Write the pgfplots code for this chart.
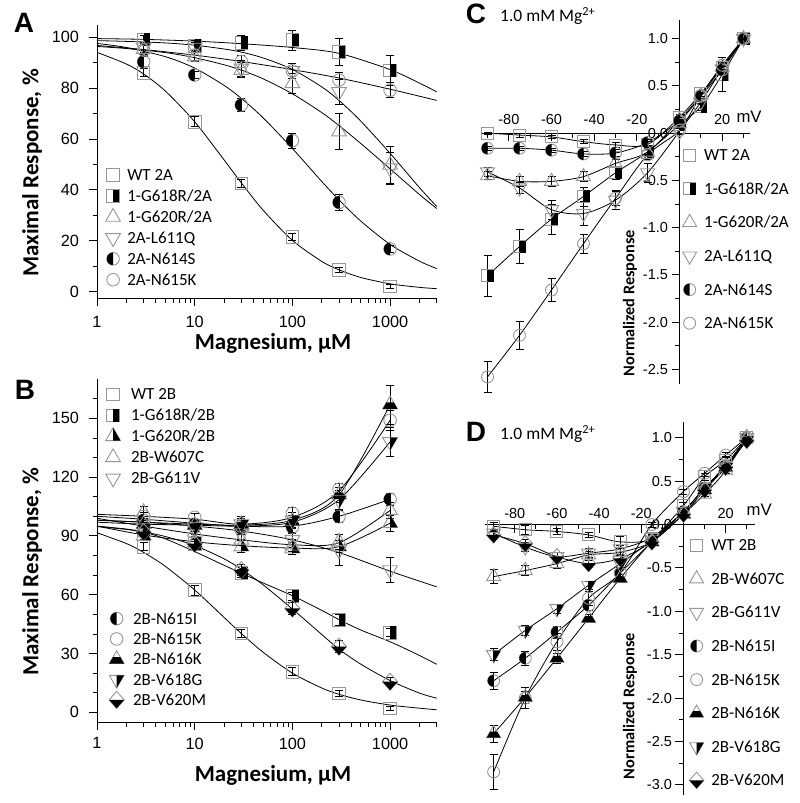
\documentclass[border=0pt]{standalone}
\usepackage{fontspec}
\setmainfont{Carlito}
\newfontfamily\arialf{Liberation Sans}
\usepackage{pgfplots}
\pgfplotsset{compat=1.18}
\definecolor{mg}{RGB}{150,150,150}

\newcommand\tfA{\fontsize{16.3}{18}\selectfont\arialf}
\newcommand\tfC{\fontsize{14.5}{16}\selectfont\arialf}
\newcommand\labf{\fontsize{23}{26}\selectfont\bfseries}
\newcommand\legf{\fontsize{17}{20}\selectfont}
\newcommand\nrf{\fontsize{16.3}{18}\selectfont\bfseries}

\newcommand\mkstyle{\pgfsetlinewidth{0.9pt}\pgfsetstrokecolor{mg}\pgfsetfillcolor{black}}
\pgfdeclareplotmark{sqO}{\mkstyle
  \pgfpathrectangle{\pgfqpoint{-\pgfplotmarksize}{-\pgfplotmarksize}}{\pgfqpoint{2\pgfplotmarksize}{2\pgfplotmarksize}}\pgfusepathqstroke}
\pgfdeclareplotmark{sqR}{\mkstyle
  \pgfpathrectangle{\pgfqpoint{-\pgfplotmarksize}{-\pgfplotmarksize}}{\pgfqpoint{2\pgfplotmarksize}{2\pgfplotmarksize}}\pgfusepathqstroke
  \pgfpathrectangle{\pgfqpoint{0pt}{-\pgfplotmarksize}}{\pgfqpoint{\pgfplotmarksize}{2\pgfplotmarksize}}\pgfusepathqfill}
\pgfdeclareplotmark{circO}{\mkstyle
  \pgfpathcircle{\pgfpointorigin}{\pgfplotmarksize}\pgfusepathqstroke}
\pgfdeclareplotmark{circL}{\mkstyle
  \pgfpathcircle{\pgfpointorigin}{\pgfplotmarksize}\pgfusepathqstroke
  \pgfpathmoveto{\pgfqpoint{0pt}{\pgfplotmarksize}}\pgfpatharc{90}{270}{\pgfplotmarksize}\pgfpathclose\pgfusepathqfill}
\pgfdeclareplotmark{triO}{\mkstyle
  \pgfpathmoveto{\pgfqpoint{0pt}{1.35\pgfplotmarksize}}
  \pgfpathlineto{\pgfqpoint{1.169\pgfplotmarksize}{-0.675\pgfplotmarksize}}
  \pgfpathlineto{\pgfqpoint{-1.169\pgfplotmarksize}{-0.675\pgfplotmarksize}}\pgfpathclose\pgfusepathqstroke}
\pgfdeclareplotmark{triR}{\pgfuseplotmark{triO}\mkstyle
  \pgfpathmoveto{\pgfqpoint{0pt}{1.35\pgfplotmarksize}}
  \pgfpathlineto{\pgfqpoint{1.169\pgfplotmarksize}{-0.675\pgfplotmarksize}}
  \pgfpathlineto{\pgfqpoint{0pt}{-0.675\pgfplotmarksize}}\pgfpathclose\pgfusepathqfill}
\pgfdeclareplotmark{triB}{\pgfuseplotmark{triO}\mkstyle
  \pgfpathmoveto{\pgfqpoint{-1.169\pgfplotmarksize}{-0.675\pgfplotmarksize}}
  \pgfpathlineto{\pgfqpoint{1.169\pgfplotmarksize}{-0.675\pgfplotmarksize}}
  \pgfpathlineto{\pgfqpoint{0.584\pgfplotmarksize}{0.337\pgfplotmarksize}}
  \pgfpathlineto{\pgfqpoint{-0.584\pgfplotmarksize}{0.337\pgfplotmarksize}}\pgfpathclose\pgfusepathqfill}
\pgfdeclareplotmark{itriO}{\mkstyle
  \pgfpathmoveto{\pgfqpoint{0pt}{-1.35\pgfplotmarksize}}
  \pgfpathlineto{\pgfqpoint{1.169\pgfplotmarksize}{0.675\pgfplotmarksize}}
  \pgfpathlineto{\pgfqpoint{-1.169\pgfplotmarksize}{0.675\pgfplotmarksize}}\pgfpathclose\pgfusepathqstroke}
\pgfdeclareplotmark{itriR}{\pgfuseplotmark{itriO}\mkstyle
  \pgfpathmoveto{\pgfqpoint{0pt}{-1.35\pgfplotmarksize}}
  \pgfpathlineto{\pgfqpoint{1.169\pgfplotmarksize}{0.675\pgfplotmarksize}}
  \pgfpathlineto{\pgfqpoint{0pt}{0.675\pgfplotmarksize}}\pgfpathclose\pgfusepathqfill}
\pgfdeclareplotmark{diaB}{\mkstyle
  \pgfpathmoveto{\pgfqpoint{0pt}{1.35\pgfplotmarksize}}
  \pgfpathlineto{\pgfqpoint{1.2\pgfplotmarksize}{0pt}}
  \pgfpathlineto{\pgfqpoint{0pt}{-1.35\pgfplotmarksize}}
  \pgfpathlineto{\pgfqpoint{-1.2\pgfplotmarksize}{0pt}}\pgfpathclose\pgfusepathqstroke
  \pgfpathmoveto{\pgfqpoint{-1.2\pgfplotmarksize}{0pt}}
  \pgfpathlineto{\pgfqpoint{1.2\pgfplotmarksize}{0pt}}
  \pgfpathlineto{\pgfqpoint{0pt}{-1.35\pgfplotmarksize}}\pgfpathclose\pgfusepathqfill}

\pgfplotsset{
  zzcrv/.style={black, line width=0.8pt, smooth, mark=none, forget plot},
  zzpts/.style={only marks, error bars/.cd, y dir=both, y explicit,
     error bar style={line width=0.8pt, black},
     error mark options={rotate=90, mark size=4pt, line width=0.8pt, black}},
  zzbase/.style={scale only axis, clip=false, tick align=outside,
     axis line style={line width=1pt, black},
     major tick style={line width=1pt, black}, minor tick style={line width=0.8pt, black},
     major tick length=8pt, minor tick length=4.5pt,
     legend cell align=left},
}

\begin{document}
\begin{tikzpicture}
\useasboundingbox (0pt,0pt) rectangle (800pt,-803pt);

% ================= Panel A =================
\begin{axis}[zzbase, at={(97pt,-298.3pt)}, anchor=south west, width=339.7pt, height=273.7pt,
  xmode=log, xmin=1, xmax=3000, axis lines*=left,
  xtick={1,10,100,1000}, xticklabels={1,10,100,1000},
  minor xtick={2,3,4,5,6,7,8,9,20,30,40,50,60,70,80,90,200,300,400,500,600,700,800,900,2000,3000},
  tick label style={font=\tfA}, xticklabel style={yshift=-6pt}, yticklabel style={xshift=-6.5pt},
  ymin=-2.6, ymax=105, ytick={0,20,40,60,80,100}, yticklabels={0,20,40,60,80,100},
  minor ytick={10,30,50,70,90},
  xlabel={Magnesium, μM}, ylabel={Maximal Response, \%},
  xlabel style={font=\labf, at={(axis description cs:0.518,-0.163)}, anchor=center},
  ylabel style={font=\labf, at={(axis description cs:-0.191,0.458)}, anchor=center},
  legend style={draw=none, fill=none, inner sep=0pt, font=\legf, row sep=3.9pt, column sep=6.9pt,
     nodes={inner sep=0pt, text height=14pt, text depth=3pt},
     at={(axis description cs:0.025,0.4815)}, anchor=north west}]
\addplot[zzcrv] coordinates {(1,94.1)(2,89.5)(3,85.6)(5,78.9)(10,66.8)(20,51.8)(30,42.8)(50,32.1)(100,20.2)(200,11.9)(300,8.6)(500,5.6)(1000,3.1)(2000,1.7)(3000,1.2)};
\addplot[zzcrv] coordinates {(1,99.5)(3,99.2)(10,98.5)(30,97.5)(100,96.0)(300,93.7)(1000,87.3)(2000,82.0)(3000,78.6)};
\addplot[zzcrv] coordinates {(1,96.4)(2,95.6)(5,94.0)(10,92.0)(20,89.2)(30,87.1)(50,83.7)(100,77.8)(200,70.4)(300,65.3)(500,58.3)(1000,48.3)(2000,38.2)(3000,32.7)};
\addplot[zzcrv] coordinates {(1,98.7)(2,98.4)(5,97.8)(10,96.9)(20,95.4)(30,94.2)(50,91.9)(100,87.4)(200,80.5)(300,75.2)(500,67.1)(1000,54.4)(2000,40.9)(3000,33.5)};
\addplot[zzcrv] coordinates {(1,97.6)(2,96.0)(5,92.4)(10,87.9)(20,81.1)(30,76.0)(50,68.4)(100,56.3)(200,43.3)(300,36.1)(500,27.8)(1000,18.6)(2000,12.0)(3000,9.1)};
\addplot[zzcrv] coordinates {(1,96.8)(3,95.2)(10,93.0)(30,90.5)(100,87.3)(300,84.0)(1000,79.6)(3000,75.2)};
\addplot[mark=sqO, mark size=6.3pt, zzpts] coordinates {(3,86.1)+-(0,1.5) (10,66.8)+-(0,2) (30,42.6)+-(0,1.5) (100,21.6)+-(0,1.5) (300,8.5)+-(0,1) (1000,2.0)+-(0,0.8)};
\addlegendentry{WT 2A}
\addplot[mark=sqR, mark size=6.3pt, zzpts] coordinates {(3,99.2)+-(0,1.5) (10,96.7)+-(0,2) (30,97.9)+-(0,3) (100,98.9)+-(0,4) (300,94.3)+-(0,5.2) (1000,87.0)+-(0,6)};
\addlegendentry{1-G618R/2A}
\addplot[mark=triO, mark size=6.3pt, zzpts] coordinates {(3,95.3)+-(0,2) (10,92.4)+-(0,2) (30,87.1)+-(0,3) (100,81.9)+-(0,4) (300,62.9)+-(0,7) (1000,49.8)+-(0,7.5)};
\addlegendentry{1-G620R/2A}
\addplot[mark=itriO, mark size=6.3pt, zzpts] coordinates {(3,96)+-(0,2) (10,96)+-(0,2) (30,87.8)+-(0,3) (100,86.8)+-(0,3) (300,78.6)+-(0,5) (1000,48.6)+-(0,6)};
\addlegendentry{2A-L611Q}
\addplot[mark=circL, mark size=6.3pt, zzpts] coordinates {(3,90.4)+-(0,2) (10,85.2)+-(0,1.5) (30,73.4)+-(0,2.5) (100,59.4)+-(0,3) (300,35.1)+-(0,3) (1000,16.8)+-(0,1.5)};
\addlegendentry{2A-N614S}
\addplot[mark=circO, mark size=6.3pt, zzpts] coordinates {(3,95)+-(0,2) (10,93)+-(0,2) (30,90.5)+-(0,2.5) (100,86.8)+-(0,3) (300,83.2)+-(0,3) (1000,79.2)+-(0,3)};
\addlegendentry{2A-N615K}
\end{axis}

% ================= Panel B =================
\begin{axis}[zzbase, at={(97pt,-722.1pt)}, anchor=south west, width=339.7pt, height=343pt,
  xmode=log, xmin=1, xmax=3000, axis lines*=left,
  xtick={1,10,100,1000}, xticklabels={1,10,100,1000},
  minor xtick={2,3,4,5,6,7,8,9,20,30,40,50,60,70,80,90,200,300,400,500,600,700,800,900,2000,3000},
  tick label style={font=\tfA}, xticklabel style={yshift=-4pt}, yticklabel style={xshift=-6.5pt},
  ymin=-5, ymax=170, ytick={0,30,60,90,120,150}, yticklabels={0,30,60,90,120,150},
  minor ytick={10,20,40,50,70,80,100,110,130,140,160},
  xlabel={Magnesium, μM}, ylabel={Maximal Response, \%},
  xlabel style={font=\labf, at={(axis description cs:0.518,-0.154)}, anchor=center},
  ylabel style={font=\labf, at={(axis description cs:-0.191,0.4385)}, anchor=center},
  legend style={draw=none, fill=none, inner sep=0pt, font=\legf, row sep=4pt, column sep=10.6pt,
     nodes={inner sep=0pt, text height=14pt, text depth=3pt},
     at={(axis description cs:0.025,0.981)}, anchor=north west}]
\addplot[zzcrv] coordinates {(1,91.6)(2,86.1)(3,81.6)(5,74.5)(10,62.4)(20,48.4)(30,40.2)(50,30.7)(100,20.0)(200,12.4)(300,9.2)(500,6.3)(1000,3.7)(2000,2.1)(3000,1.3)};
\addplot[zzcrv] coordinates {(1,95)(2,93.5)(3,92)(5,88.5)(10,82)(20,75)(30,71)(50,66)(100,59.5)(200,52)(300,47.3)(500,42)(1000,36)(2000,29)(3000,24.5)};
\addplot[zzcrv] coordinates {(1,94.8)(2,93.3)(3,92.0)(5,89.7)(10,85.1)(20,78.3)(30,73.0)(50,65.1)(100,52.7)(200,39.7)(300,32.2)(500,24.6)(1000,16.2)(2000,9.8)(3000,7.2)};
\addplot[zzcrv] coordinates {(1,98)(3,97)(10,95)(30,92.5)(100,88)(300,81.5)(1000,72)(3000,64)};
\addplot[zzcrv] coordinates {(1,99)(3,95)(10,91)(30,88)(100,85.5)(300,86.5)(1000,103)};
\addplot[zzcrv] coordinates {(1,95)(3,90.5)(10,87)(30,85)(100,83.8)(300,84.5)(1000,96.5)};
\addplot[zzcrv] coordinates {(1,100)(3,98.5)(10,96.5)(30,95)(100,95)(300,100)(1000,108.7)};
\addplot[zzcrv] coordinates {(1,101)(3,100)(10,98.5)(30,96)(100,99.5)(300,113)(1000,149)};
\addplot[zzcrv] coordinates {(1,98)(3,97)(10,96)(30,95.5)(100,98)(300,111)(1000,157)};
\addplot[zzcrv] coordinates {(1,97)(3,96)(10,95.5)(30,95)(100,97)(300,108.5)(1000,138)};
\addplot[mark=sqO, mark size=6.3pt, zzpts] coordinates {(3,84.5)+-(0,2) (10,62.4)+-(0,2.5) (30,40.3)+-(0,2) (100,20.7)+-(0,2) (300,9.7)+-(0,1.5) (1000,2.0)+-(0,1)};
\addlegendentry{WT 2B}
\addplot[mark=sqR, mark size=6.3pt, zzpts] coordinates {(3,93)+-(0,2) (10,86)+-(0,2) (30,71)+-(0,2) (100,59.3)+-(0,2) (300,47.1)+-(0,3) (1000,40.6)+-(0,2)};
\addlegendentry{1-G618R/2B}
\addplot[mark=triR, mark size=6.3pt, zzpts] coordinates {(3,90)+-(0,2) (10,86.5)+-(0,2) (30,84.5)+-(0,3) (100,83.5)+-(0,3) (300,84.5)+-(0,3) (1000,96.5)+-(0,4)};
\addlegendentry{1-G620R/2B}
\addplot[mark=triO, mark size=6.3pt, zzpts] coordinates {(3,102)+-(0,3) (10,92)+-(0,2) (30,88)+-(0,3) (100,85)+-(0,3) (300,87)+-(0,4) (1000,103)+-(0,4)};
\addlegendentry{2B-W607C}
\addplot[mark=itriO, mark size=6.3pt, zzpts] coordinates {(3,96)+-(0,2) (10,93)+-(0,2) (30,91)+-(0,3) (100,88)+-(0,4) (300,82.8)+-(0,8) (1000,72.6)+-(0,6.5)};
\addlegendentry{2B-G611V}
\end{axis}
\begin{axis}[zzbase, hide axis, at={(97pt,-722.1pt)}, anchor=south west, width=339.7pt, height=343pt,
  xmode=log, xmin=1, xmax=3000, ymin=-5, ymax=170,
  legend style={draw=none, fill=none, inner sep=0pt, font=\legf, row sep=3.3pt, column sep=8.8pt,
     nodes={inner sep=0pt, text height=14pt, text depth=3pt},
     at={(axis description cs:0.035,0.327)}, anchor=north west}]
\addplot[mark=circL, mark size=6.3pt, zzpts] coordinates {(3,98)+-(0,2) (10,96)+-(0,2) (30,94)+-(0,3) (100,94.5)+-(0,3) (300,99.8)+-(0,3) (1000,108.7)+-(0,3)};
\addlegendentry{2B-N615I}
\addplot[mark=circO, mark size=6.3pt, zzpts] coordinates {(3,100)+-(0,2) (10,99.5)+-(0,2) (30,95)+-(0,3) (100,101.6)+-(0,3) (300,113.8)+-(0,3) (1000,149)+-(0,5)};
\addlegendentry{2B-N615K}
\addplot[mark=triB, mark size=6.3pt, zzpts] coordinates {(3,96)+-(0,2) (10,95.5)+-(0,2) (30,96)+-(0,3) (100,97.5)+-(0,3) (300,111)+-(0,4) (1000,157)+-(0,10)};
\addlegendentry{2B-N616K}
\addplot[mark=itriR, mark size=6.3pt, zzpts] coordinates {(3,94)+-(0,2) (10,94.5)+-(0,2) (30,96)+-(0,4) (100,98)+-(0,4) (300,108.3)+-(0,5) (1000,138)+-(0,7.6)};
\addlegendentry{2B-V618G}
\addplot[mark=diaB, mark size=6.3pt, zzpts] coordinates {(3,92)+-(0,2) (10,86)+-(0,2) (30,72.6)+-(0,3) (100,53)+-(0,3) (300,33.5)+-(0,3) (1000,15.6)+-(0,2)};
\addlegendentry{2B-V620M}
\end{axis}

% ================= Panel C =================
\begin{axis}[zzbase, at={(481.1pt,-383.5pt)}, anchor=south west, width=268.8pt, height=363.7pt,
  axis lines*=middle, hide obscured x ticks=false, hide obscured y ticks=false,
  xmin=-93, xmax=33, ymin=-2.65, ymax=1.2,
  xtick={-80,-60,-40,-20,20}, xticklabels={-80,-60,-40,-20,20},
  minor xtick={-90,-70,-50,-30,-10,10,30},
  tick label style={font=\tfC}, xticklabel style={anchor=south, yshift=13.3pt},
  ytick={-2.5,-2,-1.5,-1,-0.5,0,0.5,1}, yticklabels={-2.5,-2.0,-1.5,-1.0,-0.5,0.0,0.5,1.0},
  minor y tick num=1,
  ylabel={Normalized Response}, xlabel={mV},
  ylabel style={font=\nrf, at={(axis description cs:0.554,0.221)}, anchor=center},
  xlabel style={font=\fontsize{16.7}{18}\selectfont\arialf, at={(axis description cs:0.937,0.7336)}, anchor=west},
  legend style={draw=none, fill=none, inner sep=0pt, font=\legf, row sep=16.6pt, column sep=7.5pt,
     nodes={inner sep=0pt, text height=14pt, text depth=3pt},
     at={(axis description cs:0.749,0.6516)}, anchor=north west}]
\addplot[zzcrv] coordinates {(-90,0.0)(-75,-0.02)(-60,-0.04)(-45,-0.09)(-30,-0.125)(-15,-0.12)(0,0.17)(10,0.42)(20,0.70)(30,1.0)};
\addplot[zzcrv] coordinates {(-90,-1.51)(-75,-1.20)(-60,-0.91)(-45,-0.67)(-30,-0.42)(-15,-0.20)(0,0.09)(10,0.28)(20,0.62)(30,1.0)};
\addplot[zzcrv] coordinates {(-90,-0.45)(-75,-0.51)(-60,-0.51)(-45,-0.46)(-30,-0.32)(-15,-0.20)(0,0.14)(10,0.40)(20,0.70)(30,1.0)};
\addplot[zzcrv] coordinates {(-90,-0.41)(-75,-0.58)(-60,-0.81)(-45,-0.85)(-30,-0.71)(-15,-0.42)(0,0.02)(10,0.33)(20,0.68)(30,1.0)};
\addplot[zzcrv] coordinates {(-90,-0.16)(-75,-0.16)(-60,-0.18)(-45,-0.22)(-30,-0.21)(-15,-0.10)(0,0.13)(10,0.39)(20,0.67)(30,1.0)};
\addplot[zzcrv] coordinates {(-90,-2.58)(-75,-2.14)(-60,-1.66)(-45,-1.17)(-30,-0.69)(-15,-0.23)(0,0.03)(10,0.40)(20,0.72)(30,1.0)};
\addplot[mark=sqO, mark size=6pt, zzpts] coordinates {(-90,0.0)+-(0,0.01) (-75,-0.02)+-(0,0.02) (-60,-0.04)+-(0,0.02) (-45,-0.09)+-(0,0.02) (-30,-0.125)+-(0,0.03) (-15,-0.12)+-(0,0.03) (0,0.17)+-(0,0.03) (10,0.42)+-(0,0.03) (20,0.70)+-(0,0.04) (30,1.0)+-(0,0)};
\addlegendentry{WT 2A}
\addplot[mark=sqR, mark size=6pt, zzpts] coordinates {(-90,-1.51)+-(0,0.22) (-75,-1.20)+-(0,0.18) (-60,-0.91)+-(0,0.16) (-45,-0.67)+-(0,0.1) (-30,-0.42)+-(0,0.07) (-15,-0.20)+-(0,0.04) (0,0.09)+-(0,0.03) (10,0.28)+-(0,0.04) (20,0.62)+-(0,0.18) (30,1.0)+-(0,0)};
\addlegendentry{1-G618R/2A}
\addplot[mark=triO, mark size=6pt, zzpts] coordinates {(-90,-0.45)+-(0,0.04) (-75,-0.51)+-(0,0.05) (-60,-0.51)+-(0,0.05) (-45,-0.46)+-(0,0.05) (-30,-0.32)+-(0,0.04) (-15,-0.20)+-(0,0.03) (0,0.14)+-(0,0.03) (10,0.40)+-(0,0.03) (20,0.70)+-(0,0.05) (30,1.0)+-(0,0)};
\addlegendentry{1-G620R/2A}
\addplot[mark=itriO, mark size=6pt, zzpts] coordinates {(-90,-0.41)+-(0,0.05) (-75,-0.58)+-(0,0.06) (-60,-0.81)+-(0,0.1) (-45,-0.85)+-(0,0.13) (-30,-0.71)+-(0,0.1) (-15,-0.42)+-(0,0.1) (0,0.02)+-(0,0.03) (10,0.33)+-(0,0.03) (20,0.68)+-(0,0.05) (30,1.0)+-(0,0)};
\addlegendentry{2A-L611Q}
\addplot[mark=circL, mark size=6pt, zzpts] coordinates {(-90,-0.16)+-(0,0.02) (-75,-0.16)+-(0,0.02) (-60,-0.18)+-(0,0.02) (-45,-0.22)+-(0,0.03) (-30,-0.21)+-(0,0.04) (-15,-0.10)+-(0,0.03) (0,0.13)+-(0,0.02) (10,0.39)+-(0,0.03) (20,0.67)+-(0,0.04) (30,1.0)+-(0,0)};
\addlegendentry{2A-N614S}
\addplot[mark=circO, mark size=6pt, zzpts] coordinates {(-90,-2.58)+-(0,0.16) (-75,-2.14)+-(0,0.15) (-60,-1.66)+-(0,0.12) (-45,-1.17)+-(0,0.1) (-30,-0.69)+-(0,0.07) (-15,-0.23)+-(0,0.05) (0,0.03)+-(0,0.03) (10,0.40)+-(0,0.03) (20,0.72)+-(0,0.04) (30,1.0)+-(0,0)};
\addlegendentry{2A-N615K}
\end{axis}

% ================= Panel D =================
\begin{axis}[zzbase, at={(485.2pt,-795.3pt)}, anchor=south west, width=270pt, height=373.2pt,
  axis lines*=middle, hide obscured x ticks=false, hide obscured y ticks=false,
  xmin=-94, xmax=34, ymin=-3.12, ymax=1.18,
  xtick={-80,-60,-40,-20,20}, xticklabels={-80,-60,-40,-20,20},
  minor xtick={-90,-70,-50,-30,-10,10,30},
  tick label style={font=\tfC}, xticklabel style={anchor=south, yshift=10pt},
  ytick={-3,-2.5,-2,-1.5,-1,-0.5,0,0.5,1}, yticklabels={-3.0,-2.5,-2.0,-1.5,-1.0,-0.5,0.0,0.5,1.0},
  minor y tick num=1,
  ylabel={Normalized Response}, xlabel={mV},
  ylabel style={font=\nrf, at={(axis description cs:0.536,0.239)}, anchor=center},
  xlabel style={font=\fontsize{16.7}{18}\selectfont\arialf, at={(axis description cs:0.955,0.7645)}, anchor=west},
  legend style={draw=none, fill=none, inner sep=0pt, font=\legf, row sep=16.6pt, column sep=7.5pt,
     nodes={inner sep=0pt, text height=14pt, text depth=3pt},
     at={(axis description cs:0.7556,0.6935)}, anchor=north west}]
\addplot[zzcrv] coordinates {(-90,-0.02)(-75,-0.06)(-60,-0.08)(-45,-0.12)(-30,-0.20)(-15,-0.16)(0,0.22)(10,0.55)(20,0.74)(30,1.0)};
\addplot[zzcrv] coordinates {(-90,-0.60)(-75,-0.53)(-60,-0.45)(-45,-0.35)(-30,-0.32)(-15,-0.20)(0,0.12)(10,0.35)(20,0.62)(30,1.0)};
\addplot[zzcrv] coordinates {(-90,-0.10)(-75,-0.26)(-60,-0.37)(-45,-0.33)(-30,-0.28)(-15,-0.15)(0,0.15)(10,0.42)(20,0.68)(30,1.0)};
\addplot[zzcrv] coordinates {(-90,-1.80)(-75,-1.54)(-60,-1.24)(-45,-0.93)(-30,-0.56)(-15,-0.20)(0,0.15)(10,0.42)(20,0.68)(30,1.0)};
\addplot[zzcrv] coordinates {(-90,-2.85)(-75,-2.0)(-60,-1.35)(-45,-0.85)(-30,-0.56)(-15,0.0)(0,0.38)(10,0.59)(20,0.80)(30,1.0)};
\addplot[zzcrv] coordinates {(-90,-2.41)(-75,-1.99)(-60,-1.54)(-45,-1.08)(-30,-0.62)(-15,-0.20)(0,0.12)(10,0.40)(20,0.66)(30,1.0)};
\addplot[zzcrv] coordinates {(-90,-1.50)(-75,-1.22)(-60,-0.97)(-45,-0.70)(-30,-0.45)(-15,-0.18)(0,0.15)(10,0.42)(20,0.66)(30,0.97)};
\addplot[zzcrv] coordinates {(-90,-0.12)(-75,-0.22)(-60,-0.37)(-45,-0.45)(-30,-0.39)(-15,-0.20)(0,0.12)(10,0.40)(20,0.66)(30,0.97)};
\addplot[mark=sqO, mark size=6pt, zzpts] coordinates {(-90,-0.02)+-(0,0.05) (-75,-0.06)+-(0,0.05) (-60,-0.08)+-(0,0.03) (-45,-0.12)+-(0,0.03) (-30,-0.20)+-(0,0.06) (-15,-0.16)+-(0,0.05) (0,0.22)+-(0,0.04) (10,0.55)+-(0,0.04) (20,0.74)+-(0,0.05) (30,1.0)+-(0,0)};
\addlegendentry{WT 2B}
\addplot[mark=triO, mark size=6pt, zzpts] coordinates {(-90,-0.60)+-(0,0.08) (-75,-0.53)+-(0,0.06) (-60,-0.45)+-(0,0.05) (-45,-0.35)+-(0,0.04) (-30,-0.32)+-(0,0.04) (-15,-0.20)+-(0,0.03) (0,0.12)+-(0,0.03) (10,0.35)+-(0,0.03) (20,0.62)+-(0,0.03) (30,1.0)+-(0,0)};
\addlegendentry{2B-W607C}
\addplot[mark=itriO, mark size=6pt, zzpts] coordinates {(-90,-0.10)+-(0,0.04) (-75,-0.26)+-(0,0.05) (-60,-0.37)+-(0,0.05) (-45,-0.33)+-(0,0.05) (-30,-0.28)+-(0,0.04) (-15,-0.15)+-(0,0.03) (0,0.15)+-(0,0.03) (10,0.42)+-(0,0.03) (20,0.68)+-(0,0.03) (30,1.0)+-(0,0)};
\addlegendentry{2B-G611V}
\addplot[mark=circL, mark size=6pt, zzpts] coordinates {(-90,-1.80)+-(0,0.1) (-75,-1.54)+-(0,0.08) (-60,-1.24)+-(0,0.07) (-45,-0.93)+-(0,0.06) (-30,-0.56)+-(0,0.05) (-15,-0.20)+-(0,0.03) (0,0.15)+-(0,0.03) (10,0.42)+-(0,0.03) (20,0.68)+-(0,0.03) (30,1.0)+-(0,0)};
\addlegendentry{2B-N615I}
\addplot[mark=circO, mark size=6pt, zzpts] coordinates {(-90,-2.85)+-(0,0.2) (-75,-2.0)+-(0,0.12) (-60,-1.35)+-(0,0.1) (-45,-0.85)+-(0,0.08) (-30,-0.56)+-(0,0.05) (-15,0.0)+-(0,0.03) (0,0.38)+-(0,0.03) (10,0.59)+-(0,0.03) (20,0.80)+-(0,0.03) (30,1.0)+-(0,0)};
\addlegendentry{2B-N615K}
\addplot[mark=triB, mark size=6pt, zzpts] coordinates {(-90,-2.41)+-(0,0.1) (-75,-1.99)+-(0,0.07) (-60,-1.54)+-(0,0.06) (-45,-1.08)+-(0,0.05) (-30,-0.62)+-(0,0.04) (-15,-0.20)+-(0,0.03) (0,0.12)+-(0,0.03) (10,0.40)+-(0,0.03) (20,0.66)+-(0,0.03) (30,1.0)+-(0,0)};
\addlegendentry{2B-N616K}
\addplot[mark=itriR, mark size=6pt, zzpts] coordinates {(-90,-1.50)+-(0,0.07) (-75,-1.22)+-(0,0.06) (-60,-0.97)+-(0,0.05) (-45,-0.70)+-(0,0.05) (-30,-0.45)+-(0,0.04) (-15,-0.18)+-(0,0.03) (0,0.15)+-(0,0.03) (10,0.42)+-(0,0.03) (20,0.66)+-(0,0.03) (30,0.97)+-(0,0)};
\addlegendentry{2B-V618G}
\addplot[mark=diaB, mark size=6pt, zzpts] coordinates {(-90,-0.12)+-(0,0.04) (-75,-0.22)+-(0,0.05) (-60,-0.37)+-(0,0.05) (-45,-0.45)+-(0,0.04) (-30,-0.39)+-(0,0.04) (-15,-0.20)+-(0,0.03) (0,0.12)+-(0,0.03) (10,0.40)+-(0,0.03) (20,0.66)+-(0,0.03) (30,0.97)+-(0,0)};
\addlegendentry{2B-V620M}
\end{axis}

% panel letters and annotations
\node[font=\fontsize{28}{30}\selectfont\arialf\bfseries] at (24pt,-23pt) {A};
\node[font=\fontsize{28}{30}\selectfont\arialf\bfseries] at (25pt,-390pt) {B};
\node[font=\fontsize{28}{30}\selectfont\arialf\bfseries] at (476pt,-14pt) {C};
\node[font=\fontsize{28}{30}\selectfont\arialf\bfseries] at (476pt,-432pt) {D};
\node[font=\fontsize{17.5}{20}\selectfont, anchor=west, inner sep=0pt] at (500pt,-16pt) {1.0 mM Mg\textsuperscript{2+}};
\node[font=\fontsize{17.5}{20}\selectfont, anchor=west, inner sep=0pt] at (500pt,-434pt) {1.0 mM Mg\textsuperscript{2+}};
\end{tikzpicture}
\end{document}
